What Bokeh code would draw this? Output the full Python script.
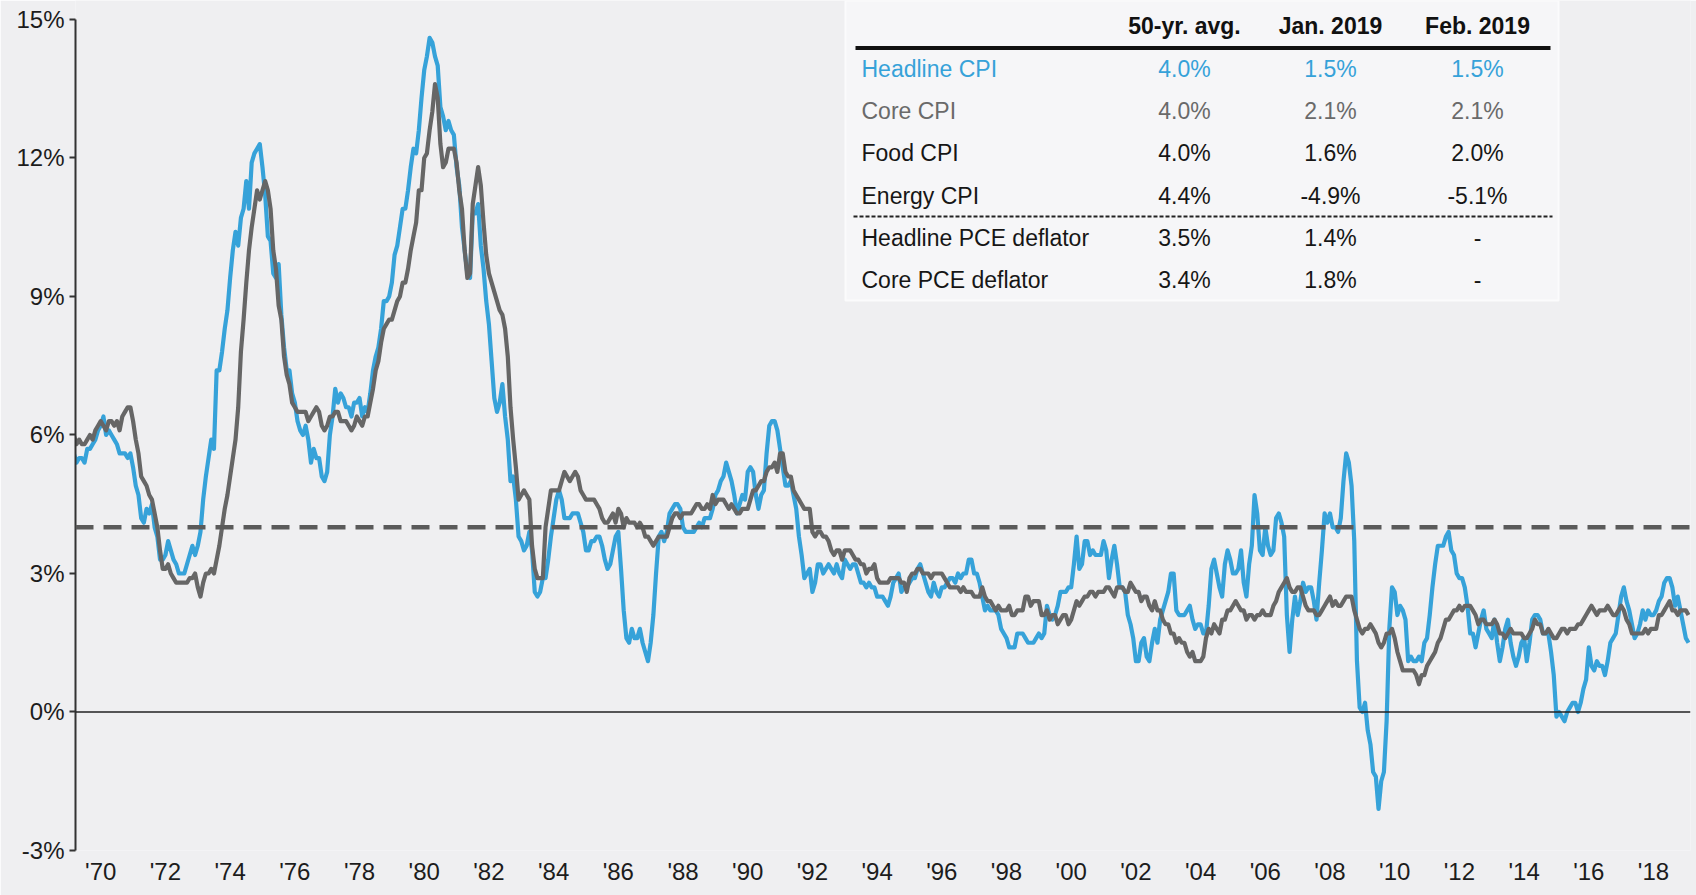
from bokeh.plotting import figure
from bokeh.models import Range1d, FixedTicker, PrintfTickFormatter, Span, ColumnDataSource
from bokeh.core.properties import value
from bokeh.embed import file_html
from bokeh.resources import INLINE

# ---------------- data ----------------
start_year, start_month = 1969, 3   # first monthly observation (Mar 1969)

headline_cpi = [
    5.6, 5.4, 5.5, 5.5, 5.4, 5.7, 5.7, 5.8, 5.9, 6.1,                      # 1969 (Mar-Dec)
    6.2, 6.4, 6.0, 6.1, 6.0, 5.9, 5.8, 5.6, 5.6, 5.6, 5.5, 5.6,            # 1970
    5.3, 4.9, 4.7, 4.2, 4.1, 4.4, 4.3, 4.5, 4.0, 3.8, 3.3, 3.3,            # 1971
    3.4, 3.7, 3.5, 3.3, 3.2, 3.0, 3.0, 3.0, 3.2, 3.4, 3.6, 3.4,            # 1972
    3.6, 3.9, 4.6, 5.1, 5.5, 5.9, 5.7, 7.4, 7.4, 7.8, 8.3, 8.7,            # 1973
    9.4, 10.0, 10.4, 10.1, 10.7, 10.9, 11.5, 10.9, 11.9, 12.1, 12.2, 12.3, # 1974
    11.8, 11.2, 10.3, 10.2, 9.5, 9.4, 9.7, 8.6, 7.9, 7.4, 7.4, 6.9,        # 1975
    6.7, 6.3, 6.1, 6.0, 6.2, 5.9, 5.4, 5.7, 5.5, 5.5, 5.1, 5.0,            # 1976
    5.2, 6.0, 6.4, 7.0, 6.7, 6.9, 6.8, 6.6, 6.6, 6.4, 6.7, 6.7,            # 1977
    6.8, 6.4, 6.6, 6.5, 6.9, 7.4, 7.7, 7.9, 8.3, 8.9, 8.9, 9.0,            # 1978
    9.3, 9.9, 10.1, 10.5, 10.9, 10.9, 11.3, 11.8, 12.2, 12.1, 12.6, 13.3,  # 1979
    13.9, 14.2, 14.6, 14.5, 14.2, 14.0, 13.1, 12.9, 12.6, 12.8, 12.6, 12.5,# 1980
    11.8, 11.4, 10.5, 10.0, 9.5, 9.4, 10.8, 10.8, 11.0, 10.1, 9.6, 8.9,    # 1981
    8.4, 7.6, 6.8, 6.5, 6.7, 7.1, 6.4, 5.9, 5.0, 5.1, 4.6, 3.8,            # 1982
    3.7, 3.5, 3.6, 3.9, 3.5, 2.6, 2.5, 2.6, 2.9, 2.9, 3.3, 3.8,            # 1983
    4.2, 4.6, 4.8, 4.6, 4.2, 4.2, 4.2, 4.3, 4.3, 4.3, 4.1, 3.9,            # 1984
    3.5, 3.5, 3.7, 3.7, 3.8, 3.8, 3.6, 3.3, 3.1, 3.2, 3.5, 3.8,            # 1985
    3.9, 3.1, 2.2, 1.6, 1.5, 1.8, 1.6, 1.6, 1.8, 1.5, 1.3, 1.1,            # 1986
    1.5, 2.1, 3.0, 3.8, 3.9, 3.7, 3.9, 4.3, 4.4, 4.5, 4.5, 4.4,            # 1987
    4.0, 3.9, 3.9, 3.9, 3.9, 4.0, 4.1, 4.0, 4.2, 4.2, 4.2, 4.4,            # 1988
    4.7, 4.8, 5.0, 5.1, 5.4, 5.2, 5.0, 4.7, 4.3, 4.5, 4.7, 4.6,            # 1989
    5.2, 5.3, 5.2, 4.7, 4.4, 4.7, 4.8, 5.6, 6.2, 6.3, 6.3, 6.1,            # 1990
    5.7, 5.3, 4.9, 4.9, 5.0, 4.7, 4.4, 3.8, 3.4, 2.9, 3.0, 3.1,            # 1991
    2.6, 2.8, 3.2, 3.2, 3.0, 3.1, 3.2, 3.1, 3.0, 3.2, 3.0, 2.9,            # 1992
    3.3, 3.2, 3.1, 3.2, 3.2, 3.0, 2.8, 2.8, 2.7, 2.8, 2.7, 2.7,            # 1993
    2.5, 2.5, 2.5, 2.4, 2.3, 2.5, 2.8, 2.9, 3.0, 2.6, 2.7, 2.7,            # 1994
    2.8, 2.9, 2.9, 3.1, 3.2, 3.0, 2.8, 2.6, 2.5, 2.8, 2.6, 2.5,            # 1995
    2.7, 2.7, 2.8, 2.9, 2.9, 2.8, 3.0, 2.9, 3.0, 3.0, 3.3, 3.3,            # 1996
    3.0, 3.0, 2.8, 2.5, 2.2, 2.3, 2.2, 2.2, 2.2, 2.1, 1.8, 1.7,            # 1997
    1.6, 1.4, 1.4, 1.4, 1.7, 1.7, 1.7, 1.6, 1.5, 1.5, 1.5, 1.6,            # 1998
    1.7, 1.6, 1.7, 2.3, 2.1, 2.0, 2.1, 2.3, 2.6, 2.6, 2.6, 2.7,            # 1999
    2.7, 3.2, 3.8, 3.1, 3.2, 3.7, 3.7, 3.4, 3.5, 3.4, 3.4, 3.4,            # 2000
    3.7, 3.5, 2.9, 3.3, 3.6, 3.2, 2.7, 2.7, 2.6, 2.1, 1.9, 1.6,            # 2001
    1.1, 1.1, 1.5, 1.6, 1.2, 1.1, 1.5, 1.8, 1.5, 2.0, 2.2, 2.4,            # 2002
    2.6, 3.0, 3.0, 2.2, 2.1, 2.1, 2.1, 2.2, 2.3, 2.0, 1.8, 1.9,            # 2003
    1.9, 1.7, 1.7, 2.3, 3.1, 3.3, 3.0, 2.7, 2.5, 3.2, 3.5, 3.3,            # 2004
    3.0, 3.0, 3.1, 3.5, 2.8, 2.5, 3.2, 3.6, 4.7, 4.3, 3.5, 3.4,            # 2005
    4.0, 3.6, 3.4, 3.5, 4.2, 4.3, 4.1, 3.8, 2.1, 1.3, 2.0, 2.5,            # 2006
    2.1, 2.4, 2.8, 2.6, 2.7, 2.7, 2.4, 2.0, 2.8, 3.5, 4.3, 4.1,            # 2007
    4.3, 4.0, 4.0, 3.9, 4.2, 5.0, 5.6, 5.4, 4.9, 3.7, 1.1, 0.1,            # 2008
    0.0, 0.2, -0.4, -0.7, -1.3, -1.4, -2.1, -1.5, -1.3, -0.2, 1.8, 2.7,    # 2009
    2.6, 2.1, 2.3, 2.2, 2.0, 1.1, 1.2, 1.1, 1.1, 1.2, 1.1, 1.5,            # 2010
    1.6, 2.1, 2.7, 3.2, 3.6, 3.6, 3.6, 3.8, 3.9, 3.5, 3.4, 3.0,            # 2011
    2.9, 2.9, 2.7, 2.3, 1.7, 1.7, 1.4, 1.7, 2.0, 2.2, 1.8, 1.7,            # 2012
    1.6, 2.0, 1.5, 1.1, 1.4, 1.8, 2.0, 1.5, 1.2, 1.0, 1.2, 1.5,            # 2013
    1.6, 1.1, 1.5, 2.0, 2.1, 2.1, 2.0, 1.7, 1.7, 1.7, 1.3, 0.8,            # 2014
    -0.1, 0.0, -0.1, -0.2, 0.0, 0.1, 0.2, 0.2, 0.0, 0.2, 0.5, 0.7,         # 2015
    1.4, 1.0, 0.9, 1.1, 1.0, 1.0, 0.8, 1.1, 1.5, 1.6, 1.7, 2.1,            # 2016
    2.5, 2.7, 2.4, 2.2, 1.9, 1.6, 1.7, 1.9, 2.2, 2.0, 2.2, 2.1,            # 2017
    2.1, 2.2, 2.4, 2.5, 2.8, 2.9, 2.9, 2.7, 2.3, 2.5, 2.2, 1.9,            # 2018
    1.6, 1.5,                                                              # 2019 (Jan-Feb)
]

core_cpi = [
    6.0, 5.8, 5.9, 5.8, 5.8, 5.9, 6.0, 5.9, 6.1, 6.2,                      # 1969 (Mar-Dec)
    6.3, 6.2, 6.1, 6.3, 6.3, 6.2, 6.3, 6.1, 6.4, 6.5, 6.6, 6.6,            # 1970
    6.3, 5.9, 5.6, 5.1, 5.0, 4.9, 4.7, 4.6, 4.3, 4.0, 3.5, 3.1,            # 1971
    3.1, 3.2, 3.0, 2.9, 2.8, 2.8, 2.8, 2.8, 2.8, 2.9, 2.9, 3.0,            # 1972
    2.7, 2.5, 2.8, 3.0, 3.0, 3.1, 3.0, 3.3, 3.6, 4.0, 4.4, 4.7,            # 1973
    5.1, 5.5, 5.9, 6.6, 7.8, 8.5, 9.3, 10.0, 10.5, 10.9, 11.3, 11.1,       # 1974
    11.3, 11.5, 11.3, 10.9, 10.0, 9.6, 8.8, 8.5, 7.7, 7.3, 7.1, 6.7,       # 1975
    6.6, 6.5, 6.5, 6.5, 6.5, 6.3, 6.4, 6.5, 6.6, 6.5, 6.2, 6.1,            # 1976
    6.2, 6.4, 6.4, 6.5, 6.5, 6.3, 6.3, 6.3, 6.2, 6.1, 6.2, 6.4,            # 1977
    6.3, 6.2, 6.4, 6.4, 6.7, 7.0, 7.4, 7.6, 8.0, 8.3, 8.4, 8.5,            # 1978
    8.5, 8.7, 8.9, 9.0, 9.3, 9.3, 9.6, 10.0, 10.3, 10.6, 11.3, 11.3,       # 1979
    12.0, 12.1, 12.6, 13.0, 13.6, 13.3, 12.3, 11.8, 11.9, 12.2, 12.2, 12.2,# 1980
    11.9, 11.3, 10.9, 10.0, 9.4, 9.5, 11.0, 11.4, 11.8, 11.4, 10.6, 9.9,   # 1981
    9.5, 9.3, 9.1, 8.9, 8.7, 8.6, 8.3, 7.7, 6.6, 5.9, 5.3, 4.6,            # 1982
    4.7, 4.8, 4.7, 4.6, 3.6, 3.1, 2.9, 2.9, 2.9, 4.0, 4.4, 4.8,            # 1983
    4.8, 4.8, 4.8, 5.0, 5.2, 5.1, 5.0, 5.1, 5.2, 5.1, 4.8, 4.7,            # 1984
    4.6, 4.6, 4.6, 4.6, 4.5, 4.4, 4.2, 4.1, 4.1, 4.2, 4.3, 4.1,            # 1985
    4.4, 4.3, 4.0, 4.2, 4.1, 4.1, 4.1, 4.0, 4.1, 4.0, 3.8, 3.8,            # 1986
    3.7, 3.6, 3.7, 3.8, 3.8, 3.8, 3.8, 4.0, 4.2, 4.3, 4.3, 4.2,            # 1987
    4.3, 4.3, 4.3, 4.3, 4.4, 4.5, 4.5, 4.4, 4.4, 4.5, 4.4, 4.7,            # 1988
    4.5, 4.6, 4.6, 4.6, 4.5, 4.4, 4.5, 4.4, 4.3, 4.3, 4.4, 4.4,            # 1989
    4.4, 4.6, 4.8, 4.8, 4.9, 5.0, 5.0, 5.2, 5.3, 5.3, 5.4, 5.2,            # 1990
    5.6, 5.6, 5.2, 5.1, 5.1, 4.8, 4.7, 4.6, 4.5, 4.4, 4.4, 4.4,            # 1991
    3.9, 3.8, 3.9, 3.9, 3.8, 3.8, 3.7, 3.5, 3.4, 3.5, 3.5, 3.3,            # 1992
    3.5, 3.5, 3.5, 3.4, 3.3, 3.3, 3.2, 3.2, 3.0, 3.1, 3.1, 3.2,            # 1993
    2.9, 2.8, 2.8, 2.8, 2.8, 2.9, 2.9, 2.9, 2.9, 2.8, 2.8, 2.6,            # 1994
    2.9, 3.0, 3.0, 3.1, 3.1, 3.0, 3.0, 3.0, 2.9, 3.0, 3.0, 3.0,            # 1995
    3.0, 2.9, 2.8, 2.7, 2.7, 2.7, 2.7, 2.6, 2.7, 2.6, 2.6, 2.6,            # 1996
    2.5, 2.5, 2.5, 2.7, 2.5, 2.4, 2.4, 2.3, 2.2, 2.3, 2.2, 2.2,            # 1997
    2.2, 2.3, 2.1, 2.1, 2.2, 2.2, 2.2, 2.5, 2.5, 2.3, 2.4, 2.4,            # 1998
    2.4, 2.1, 2.1, 2.2, 2.0, 2.1, 2.1, 1.9, 2.0, 2.1, 2.1, 1.9,            # 1999
    2.0, 2.2, 2.4, 2.3, 2.4, 2.5, 2.5, 2.6, 2.6, 2.5, 2.6, 2.6,            # 2000
    2.6, 2.7, 2.7, 2.6, 2.5, 2.7, 2.7, 2.7, 2.6, 2.6, 2.8, 2.7,            # 2001
    2.6, 2.6, 2.4, 2.5, 2.5, 2.3, 2.2, 2.4, 2.2, 2.2, 2.0, 1.9,            # 2002
    1.9, 1.7, 1.7, 1.5, 1.6, 1.5, 1.5, 1.3, 1.2, 1.3, 1.1, 1.1,            # 2003
    1.1, 1.2, 1.6, 1.8, 1.7, 1.9, 1.8, 1.7, 2.0, 2.0, 2.2, 2.2,            # 2004
    2.3, 2.4, 2.3, 2.2, 2.2, 2.0, 2.1, 2.1, 2.0, 2.1, 2.1, 2.2,            # 2005
    2.1, 2.1, 2.1, 2.3, 2.4, 2.6, 2.7, 2.8, 2.9, 2.7, 2.6, 2.6,            # 2006
    2.7, 2.7, 2.5, 2.3, 2.2, 2.2, 2.2, 2.1, 2.1, 2.2, 2.3, 2.4,            # 2007
    2.5, 2.3, 2.4, 2.3, 2.3, 2.4, 2.5, 2.5, 2.5, 2.2, 2.0, 1.8,            # 2008
    1.7, 1.8, 1.8, 1.9, 1.8, 1.7, 1.5, 1.4, 1.5, 1.7, 1.7, 1.8,            # 2009
    1.6, 1.3, 1.1, 0.9, 0.9, 0.9, 0.9, 0.9, 0.8, 0.6, 0.8, 0.8,            # 2010
    1.0, 1.1, 1.2, 1.3, 1.5, 1.6, 1.8, 2.0, 2.0, 2.1, 2.2, 2.2,            # 2011
    2.3, 2.2, 2.3, 2.3, 2.3, 2.2, 2.1, 1.9, 2.0, 2.0, 1.9, 1.9,            # 2012
    1.9, 2.0, 1.9, 1.7, 1.7, 1.6, 1.7, 1.8, 1.7, 1.7, 1.7, 1.7,            # 2013
    1.6, 1.6, 1.7, 1.8, 2.0, 1.9, 1.9, 1.7, 1.7, 1.8, 1.7, 1.6,            # 2014
    1.6, 1.7, 1.8, 1.8, 1.7, 1.8, 1.8, 1.8, 1.9, 1.9, 2.0, 2.1,            # 2015
    2.2, 2.3, 2.2, 2.1, 2.2, 2.2, 2.2, 2.3, 2.2, 2.1, 2.1, 2.2,            # 2016
    2.3, 2.2, 2.0, 1.9, 1.7, 1.7, 1.7, 1.7, 1.7, 1.8, 1.7, 1.8,            # 2017
    1.8, 1.8, 2.1, 2.1, 2.2, 2.3, 2.4, 2.2, 2.2, 2.1, 2.2, 2.2,            # 2018
    2.2, 2.1,                                                              # 2019 (Jan-Feb)
]

avg_50yr_line = 4.0   # headline CPI 50-yr average (dashed line)

y_ticks = [-3, 0, 3, 6, 9, 12, 15]
x_tick_years = [1970, 1972, 1974, 1976, 1978, 1980, 1982, 1984, 1986, 1988, 1990, 1992,
                1994, 1996, 1998, 2000, 2002, 2004, 2006, 2008, 2010, 2012, 2014, 2016, 2018]
x_tick_labels = ["'70", "'72", "'74", "'76", "'78", "'80", "'82", "'84", "'86", "'88", "'90", "'92",
                 "'94", "'96", "'98", "'00", "'02", "'04", "'06", "'08", "'10", "'12", "'14", "'16", "'18"]

column_headers = ["50-yr. avg.", "Jan. 2019", "Feb. 2019"]
row_labels = ["Headline CPI", "Core CPI", "Food CPI", "Energy CPI",
              "Headline PCE deflator", "Core PCE deflator"]
avg_50yr = ["4.0%", "4.0%", "4.0%", "4.4%", "3.5%", "3.4%"]
jan_2019 = ["1.5%", "2.1%", "1.6%", "-4.9%", "1.4%", "1.8%"]
feb_2019 = ["1.5%", "2.1%", "2.0%", "-5.1%", "-", "-"]

# ---------------- styling / layout ----------------
BG = "#EFEFF1"
BOX = "#F6F6F8"
BLUE = "#36A2D9"
GRAY = "#666666"
DARK = "#161616"
FONT = "Liberation Sans"

W, H = 1696, 895
LEFT, RIGHT, BOTTOM = 75, 6, 45
X0, X1 = 1969.22, 2019.144
Y0, Y1 = -3.0, 15.41
FRAME_W = W - LEFT - RIGHT
FRAME_H = H - BOTTOM


def X(px):  # page pixel -> data x
    return X0 + (px - LEFT) / FRAME_W * (X1 - X0)


def Y(py):  # page pixel -> data y
    return Y1 - py / FRAME_H * (Y1 - Y0)


dates = []
for i in range(len(headline_cpi)):
    m = start_month - 1 + i
    dates.append(start_year + m // 12 + (m % 12) / 12.0)

p = figure(width=W, height=H, output_backend="svg", toolbar_location=None,
           x_range=Range1d(X0, X1), y_range=Range1d(Y0, Y1),
           min_border_left=LEFT, min_border_right=RIGHT, min_border_top=0,
           min_border_bottom=BOTTOM)
p.background_fill_color = BG
p.border_fill_color = BG
p.outline_line_color = None
p.grid.visible = False

# y axis
p.yaxis.ticker = FixedTicker(ticks=y_ticks)
p.yaxis.formatter = PrintfTickFormatter(format="%d%%")
p.yaxis.bounds = (-3, 15)
p.yaxis.axis_line_width = 2
p.yaxis.axis_line_color = "#333333"
p.yaxis.major_tick_line_width = 2
p.yaxis.major_tick_line_color = "#333333"
p.yaxis.major_tick_out = 6
p.yaxis.major_tick_in = 0
p.yaxis.minor_tick_line_color = None
p.yaxis.major_label_standoff = 5
p.yaxis.major_label_text_font = FONT
p.yaxis.major_label_text_font_size = "24px"
p.yaxis.major_label_text_color = "#1c1c1c"

# x axis
p.xaxis.ticker = FixedTicker(ticks=x_tick_years)
p.xaxis.major_label_overrides = {yr: lab for yr, lab in zip(x_tick_years, x_tick_labels)}
p.xaxis.axis_line_color = None
p.xaxis.major_tick_line_color = None
p.xaxis.minor_tick_line_color = None
p.xaxis.major_label_standoff = 1
p.xaxis.major_label_text_font = FONT
p.xaxis.major_label_text_font_size = "24px"
p.xaxis.major_label_text_color = "#1c1c1c"

# table box
p.quad(left=[X(845)], right=[X(1558)], top=[Y(0)], bottom=[Y(300)],
       fill_color=BOX, line_color="#FBFBFC", line_width=2)
p.segment(x0=[X(855)], x1=[X(1550)], y0=[Y(47.5)], y1=[Y(47.5)],
          line_color="#111111", line_width=4)
p.segment(x0=[X(853)], x1=[X(1552)], y0=[Y(216)], y1=[Y(216)],
          line_color="#222222", line_width=2, line_dash="4 2")

col_x = [X(1184), X(1330), X(1477)]
p.text(x=col_x, y=[Y(25)] * 3, text=column_headers,
       text_font=value(FONT), text_font_style="bold", text_font_size="23px",
       text_align="center", text_baseline="middle", text_color="#111111")

row_y = [Y(v) for v in (68, 110, 152.5, 195, 237, 279)]
row_colors = [BLUE, "#6A6A6A", DARK, DARK, DARK, DARK]
p.text(x=[X(861)] * len(row_labels), y=row_y, text=row_labels,
       text_font=value(FONT), text_font_size="23px",
       text_align="left", text_baseline="middle", text_color=row_colors)
for cx, col in zip(col_x, (avg_50yr, jan_2019, feb_2019)):
    p.text(x=[cx] * len(col), y=row_y, text=col,
           text_font=value(FONT), text_font_size="23px",
           text_align="center", text_baseline="middle", text_color=row_colors)

# series
src = ColumnDataSource(dict(x=dates, headline=headline_cpi, core=core_cpi))
p.line("x", "headline", source=src, line_color=BLUE, line_width=4.2, line_join="round")
p.line("x", "core", source=src, line_color=GRAY, line_width=4.2, line_join="round")

p.add_layout(Span(location=avg_50yr_line, dimension="width", line_color="#5A5A5A",
                  line_width=4.5, line_dash="18 10"))
p.add_layout(Span(location=0, dimension="width", line_color="#222222", line_width=1.5))

html = file_html(p, INLINE)
html = html.replace("<body>", '<body style="background-color:#EFEFF1;">', 1)
open("out.html", "w").write(html)
